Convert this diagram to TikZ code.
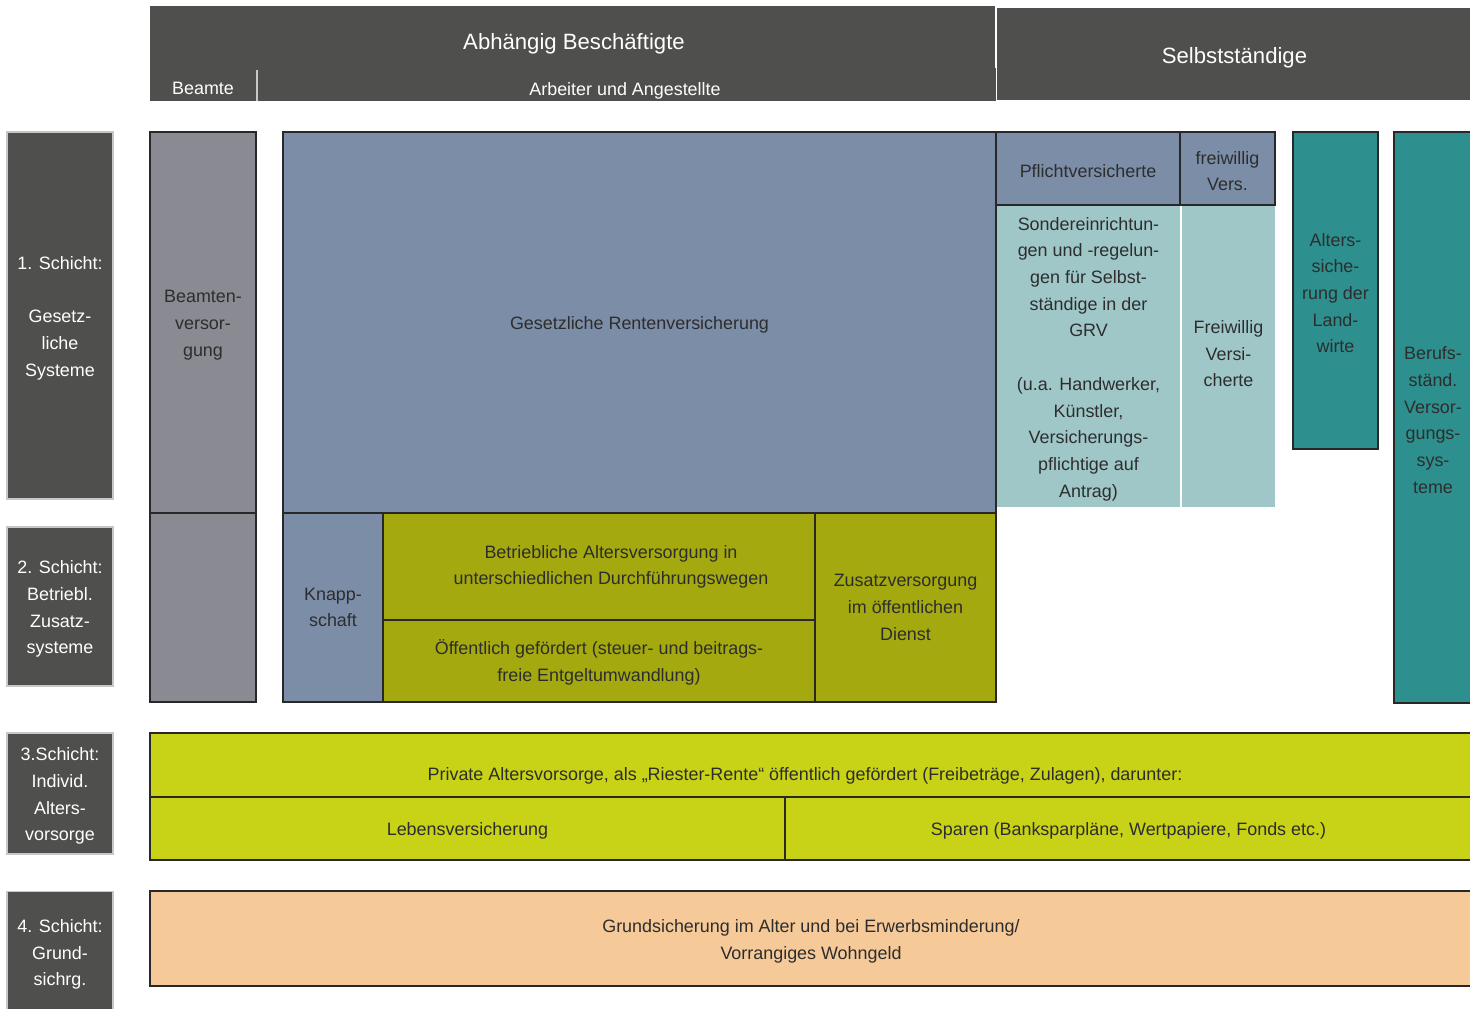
\documentclass[tikz,border=0pt]{standalone}
\usepackage{fontspec}
\setmainfont{Liberation Sans}
\usetikzlibrary{positioning}

\definecolor{cHeadGray}{RGB}{79,79,77}
\definecolor{cFrameGray}{RGB}{200,200,200}
\definecolor{cLineDark}{RGB}{40,40,40}
\definecolor{cBoxText}{RGB}{45,45,45}
\definecolor{cBeamtGray}{RGB}{137,138,146}
\definecolor{cGrvBlue}{RGB}{124,141,167}
\definecolor{cOlive}{RGB}{164,169,15}
\definecolor{cLightTeal}{RGB}{160,199,200}
\definecolor{cTeal}{RGB}{46,143,143}
\definecolor{cLime}{RGB}{200,210,22}
\definecolor{cPeach}{RGB}{245,201,152}

% Strebe fuer die erste Zeile mehrzeiliger Texte
\newcommand{\firstLine}{\rule{0pt}{10.3pt}}

\begin{document}
\begin{tikzpicture}[x=0.02cm,y=-0.02cm,
    every node/.style={font=\fontsize{10.2}{15.2}\selectfont\rule{0pt}{10.3pt}, align=center, inner sep=0pt},
    size/.style 2 args={minimum width=#1*0.02cm, minimum height=#2*0.02cm},
    headBox/.style={fill=cHeadGray, text=white},
    headFont/.style={font=\fontsize{12.6}{15}\selectfont\rule{0pt}{13pt}},
    layerBox/.style={fill=cHeadGray, draw=cFrameGray, line width=0.6pt, text=white},
    sysBox/.style={draw=cLineDark, line width=1pt, text=cBoxText},
    softBox/.style={fill=cLightTeal, text=cBoxText}]

    \useasboundingbox (0,0) rectangle (1470,1008);
    \clip (0,0) rectangle (1470,1008);

    % Kopfzeile
    \node[headBox, size={846}{95}] (nAbhHead) at (573,53.5) {};
    \node[headBox, headFont, size={475}{92}] (nSelbstHead) at (1234.5,54) {Selbstständige};
    \draw[white, line width=0.8pt] (996,6) -- (996,68);
    \draw[cFrameGray, line width=0.8pt] (257,70) -- (257,101);
    \node[headFont, text=white] (nAbhText) at (574,40) {Abhängig Beschäftigte};
    \node[text=white] (nBeamteText) at (203,86) {Beamte};
    \node[text=white] (nArbText) at (625,88) {Arbeiter und Angestellte};

    % Schichten links
    \node[layerBox, size={106}{367}] (nLayer1) at (60,315.5) {\firstLine 1. Schicht:\\\mbox{}\\Gesetz-\\liche\\Systeme};
    \node[layerBox, size={106}{159}] (nLayer2) at (60,606.5) {\firstLine 2. Schicht:\\Betriebl.\\Zusatz-\\systeme};
    \node[layerBox, size={106}{121}] (nLayer3) at (60,793.5) {\firstLine 3.Schicht:\\Individ.\\Alters-\\vorsorge};
    \node[layerBox, size={106}{121}] (nLayer4) at (60,952) {\firstLine 4. Schicht:\\Grund-\\sichrg.};

    % 1. Schicht
    \node[sysBox, fill=cBeamtGray, size={106}{381}] (nBeamten) at (203,322.5) {\firstLine Beamten-\\versor-\\gung};
    \node[sysBox, fill=cGrvBlue, size={713}{381}] (nGrv) at (639.5,322.5) {Gesetzliche Rentenversicherung};
    \node[sysBox, fill=cGrvBlue, size={184}{73}] (nPflicht) at (1088,168.5) {Pflichtversicherte};
    \node[sysBox, fill=cGrvBlue, size={95}{73}] (nFreiwHead) at (1227.5,168.5) {\firstLine freiwillig\\Vers.};
    \node[softBox, size={183}{301}] (nSonder) at (1088.5,356.5) {\firstLine Sondereinrichtun-\\gen und -regelun-\\gen für Selbst-\\ständige in der\\GRV\\\mbox{}\\(u.a. Handwerker,\\Künstler,\\Versicherungs-\\pflichtige auf\\Antrag)};
    \node[softBox, size={93}{301}, execute at end node={\rule[-6.2pt]{0pt}{0pt}}] (nFreiw) at (1228.5,356.5) {\firstLine Freiwillig\\Versi-\\cherte};
    \node[sysBox, fill=cTeal, size={85}{317}] (nLandwirte) at (1335.5,290.5) {\firstLine Alters-\\siche-\\rung der\\Land-\\wirte};
    \node[sysBox, fill=cTeal, size={78}{571}] (nBerufsst) at (1433,417.5) {\firstLine Berufs-\\ständ.\\Versor-\\gungs-\\sys-\\teme};

    % 2. Schicht
    \node[sysBox, fill=cBeamtGray, size={106}{189}] (nBeamtenZus) at (203,607.5) {};
    \node[sysBox, fill=cGrvBlue, size={100}{189}] (nKnapp) at (333,607.5) {Knapp-\\schaft};
    \node[sysBox, fill=cOlive, size={432}{107}] (nBav) at (599,566.5) {};
    \node[text=cBoxText] (nBavText) at (611,567) {Betriebliche Altersversorgung in\\unterschiedlichen Durchführungswegen};
    \node[sysBox, fill=cOlive, size={432}{82}] (nEntgelt) at (599,661) {\firstLine Öffentlich gefördert (steuer- und beitrags-\\freie Entgeltumwandlung)};
    \node[sysBox, fill=cOlive, size={181}{189}] (nZusatz) at (905.5,607.5) {Zusatzversorgung\\im öffentlichen\\Dienst};

    % 3. Schicht
    \node[sysBox, fill=cLime, size={1322}{64}] (nRiester) at (811,765) {};
    \node[text=cBoxText] (nRiesterText) at (805,773) {Private Altersvorsorge, als „Riester-Rente“ öffentlich gefördert (Freibeträge, Zulagen), darunter:};
    \node[sysBox, fill=cLime, size={635}{63}] (nLeben) at (467.5,828.5) {Lebensversicherung};
    \node[sysBox, fill=cLime, size={687}{63}] (nSparen) at (1128.5,828.5) {Sparen (Banksparpläne, Wertpapiere, Fonds etc.)};

    % 4. Schicht
    \node[sysBox, fill=cPeach, size={1322}{95}] (nGrundsich) at (811,938.5) {\firstLine Grundsicherung im Alter und bei Erwerbsminderung/\\Vorrangiges Wohngeld};

\end{tikzpicture}
\end{document}
